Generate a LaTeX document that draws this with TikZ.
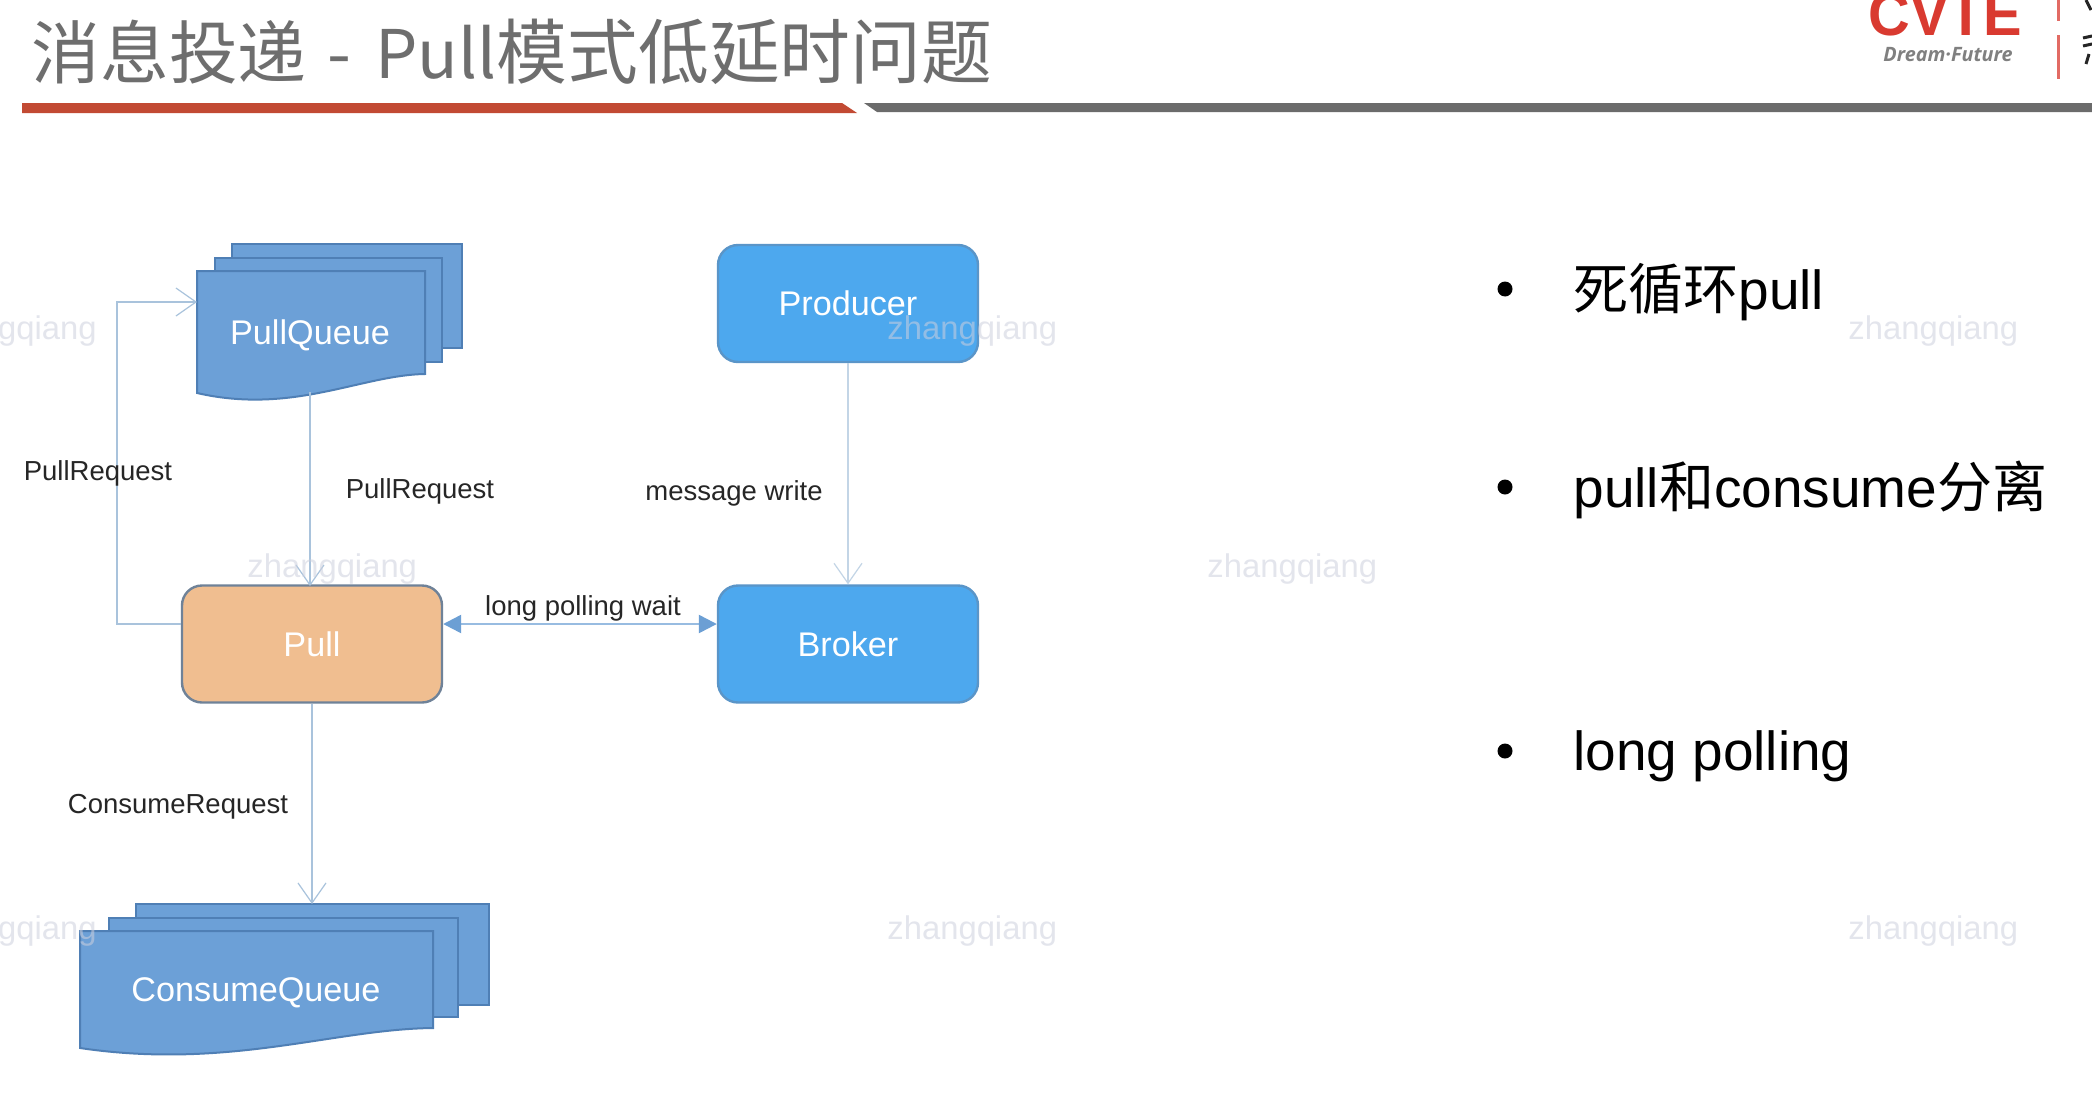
\documentclass[tikz,border=0pt]{standalone}
\usepackage{fontspec}
\setmainfont{Liberation Sans}
\newfontfamily\cjk{Noto Sans CJK SC}
\newfontfamily\logofont{Open Sans}
\usetikzlibrary{arrows.meta}
\definecolor{qblue}{HTML}{6CA0D7}
\definecolor{qedge}{HTML}{4F7FB5}
\definecolor{sblue}{HTML}{4DA8EE}
\definecolor{sedge}{HTML}{5A95C8}
\definecolor{porange}{HTML}{F0BE90}
\definecolor{pedge}{HTML}{6F8298}
\definecolor{conn}{HTML}{A9C3DC}
\definecolor{connb}{HTML}{6C9FD4}
\definecolor{wm}{HTML}{CDD0DE}
\definecolor{tgray}{HTML}{6E6E6E}
\definecolor{barred}{HTML}{C24A33}
\definecolor{bargray}{HTML}{6B6B6B}
\definecolor{logored}{HTML}{D93A30}
\tikzset{
  x=0.5pt,y=-0.5pt,
  qshape/.style={fill=qblue,draw=qedge,line width=1pt},
  lbl/.style={font=\fontsize{13.75pt}{16pt}\selectfont,text=black!85,inner sep=0pt},
  wlbl/.style={font=\fontsize{17.1pt}{20pt}\selectfont,inner sep=0pt},
  boxs/.style={rounded corners=10pt,line width=1.2pt,minimum width=130pt,minimum height=58.5pt,inner sep=0pt},
  flow/.style={draw=conn,line width=1pt,-{Straight Barb[length=10pt,width=14pt,line width=0.6pt]}},
  wmark/.style={font=\fontsize{16.4pt}{20pt}\selectfont,text=wm,text opacity=0.55,inner sep=0pt},
  bull/.style={font=\fontsize{27.5pt}{32pt}\selectfont,text=black,inner sep=0pt,anchor=west},
  bdot/.style={circle,fill=black,inner sep=0pt,minimum size=7.5pt}
}
\newcommand{\docshape}[5]{% left, top, right, rightbottom, leftbottom
  \path[qshape] (#1,#2) -- (#3,#2) -- (#3,#4)
    .. controls ({#3-0.28*(#3-#1)},{#4+1}) and ({#1+0.42*(#3-#1)},{#5+22}) .. (#1,#5) -- cycle;
}
\begin{document}
\begin{tikzpicture}
\useasboundingbox (0,0) rectangle (2092,1092);
\fill[white] (0,0) rectangle (2092,1092);
\begin{scope}
\clip (0,0) rectangle (2092,1092);
% header
\node[anchor=base west,inner sep=0pt,text=tgray,font=\cjk] (title) at (31,78) {\fontsize{34.4pt}{40pt}\selectfont 消息投递\hspace{10.5pt}-\hspace{12pt}\fontsize{33.5pt}{40pt}\selectfont Pull\fontsize{35.4pt}{40pt}\selectfont 模式低延时问题};
\fill[barred] (22,103) -- (842,103) -- (857,113) -- (22,113) -- cycle;
\fill[bargray] (864,103) -- (2092,103) -- (2092,112) -- (877,112) -- cycle;
\node[anchor=base west,inner sep=0pt,text=logored,font=\fontsize{30.4pt}{34pt}\selectfont\bfseries] (logo) at (1868,35) {\scalebox{0.95}[1]{CVTE}};
\node[anchor=center,inner sep=0pt,text=black!50,font=\fontsize{9.9pt}{11pt}\selectfont\logofont\bfseries\itshape] (dream) at (1948,55) {Dream·Future};
\draw[logored!75,line width=1.5pt] (2058,0) -- (2058,21) (2058,35) -- (2058,79);
\draw[black!85,line width=1.5pt] (2086,0) -- (2091,10) (2083,38) -- (2092,36) (2083,46) -- (2092,44) (2089,54) -- (2086,64);

% queues
\path[qshape] (232,244) rectangle (462,348);
\path[qshape] (215,258) rectangle (442,362);
\docshape{197}{271}{425}{374}{393}
\node[wlbl,text=white] (pq) at (310,335.5) {PullQueue};

\path[qshape] (136,904) rectangle (489,1005);
\path[qshape] (109,918) rectangle (458,1017);
\docshape{80}{931}{433}{1028}{1048}
\node[wlbl,text=white] (cq) at (256,992.5) {ConsumeQueue};

% boxes
\node[boxs,fill=porange,draw=pedge,text=white,font=\fontsize{17.1pt}{20pt}\selectfont] (pull) at (312,644) {Pull};
\node[boxs,fill=sblue,draw=sedge,text=white,font=\fontsize{17.1pt}{20pt}\selectfont] (producer) at (848,303.5) {Producer};
\node[boxs,fill=sblue,draw=sedge,text=white,font=\fontsize{17.1pt}{20pt}\selectfont] (broker) at (848,644) {Broker};

% connectors
\coordinate (pqb) at (310,392);
\coordinate (pqt) at (310,586);
\coordinate (pqin) at (197,302);
\coordinate (cqt) at (312,904);
\draw[flow] (pqb) -- (pqt);
\draw[flow] (pull.west |- 0,624) -- (117,624) -- (117,302) -- (pqin);
\draw[flow] (pull.south) -- (cqt);
\draw[flow,draw=conn!70] (producer.south) -- (broker.north);
\draw[draw=connb!70,line width=1.2pt,{Triangle[length=9pt,width=9pt,fill=connb,color=connb]}-{Triangle[length=9pt,width=9pt,fill=connb,color=connb]}] (pull.east |- 0,624) -- (broker.west |- 0,624);

% labels
\node[lbl] (l1) at (98,473.5) {PullRequest};
\node[lbl] (l2) at (420,491.5) {PullRequest};
\node[lbl] (l3) at (734,493) {message write};
\node[lbl] (l4) at (583,608.5) {long polling wait};
\node[lbl] (l5) at (178,806.5) {ConsumeRequest};

% bullets
\node[bdot] (b1) at (1505,289) {};
\node[bdot] (b2) at (1505,487) {};
\node[bdot] (b3) at (1505,751) {};
\node[bull] (t1) at (1573,292) {{\cjk 死循环}pull};
\node[bull] (t2) at (1573,490) {pull{\cjk 和}consume{\cjk 分离}};
\node[bull] (t3) at (1573,756) {long polling};

% watermarks
\node[wmark,anchor=east] (w1) at (97,331.5) {zhangqiang};
\node[wmark,anchor=west] (w2) at (887,331.5) {zhangqiang};
\node[wmark,anchor=west] (w3) at (1848,331.5) {zhangqiang};
\node[wmark,anchor=west] (w4) at (247,569.5) {zhangqiang};
\node[wmark,anchor=west] (w5) at (1207,569.5) {zhangqiang};
\node[wmark,anchor=east] (w6) at (97,931) {zhangqiang};
\node[wmark,anchor=west] (w7) at (887,931) {zhangqiang};
\node[wmark,anchor=west] (w8) at (1848,931) {zhangqiang};
\end{scope}
\end{tikzpicture}
\end{document}
